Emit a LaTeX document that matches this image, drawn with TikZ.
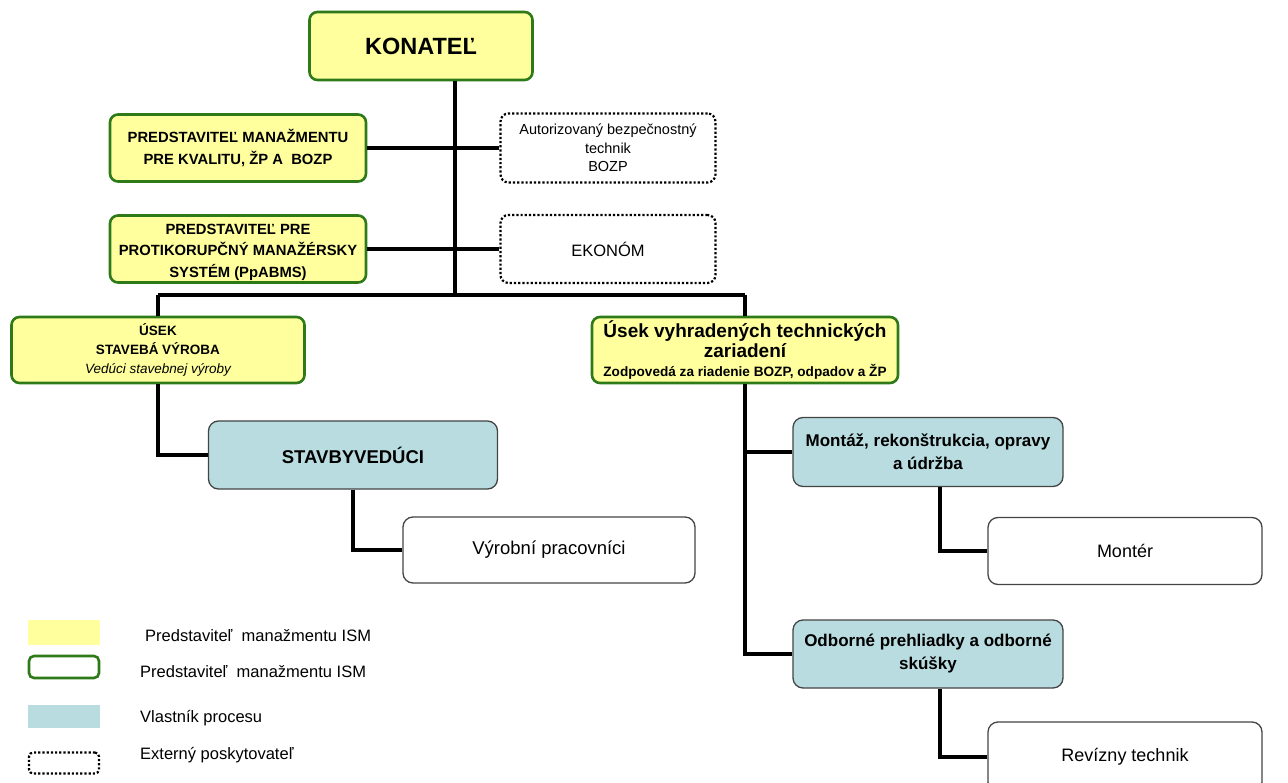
\documentclass[tikz,border=0pt]{standalone}
\usepackage{fontspec}
\setmainfont{Liberation Sans}
\definecolor{ylw}{HTML}{FFFF9E}
\definecolor{grn}{HTML}{2E7A18}
\definecolor{teal2}{HTML}{B8DCE0}
\definecolor{gry}{HTML}{444444}
\tikzset{
  gbox/.style={draw=grn, line width=2.6pt, fill=ylw, rounded corners=8pt, align=center, inner sep=2pt},
  dotbox/.style={draw=black, line width=2.2pt, dotted, rounded corners=8pt, align=center, inner sep=2pt},
  tbox/.style={draw=gry, line width=1.3pt, fill=teal2, rounded corners=10pt, align=center, inner sep=2pt},
  wbox/.style={draw=gry, line width=1.3pt, fill=white, rounded corners=10pt, align=center, inner sep=2pt},
  conn/.style={line width=4.5pt, black},
  lgtext/.style={anchor=west, inner sep=0pt, font=\fontsize{16.5}{18}\selectfont},
}
\newcommand{\fs}[2]{\fontsize{#1}{#2}\selectfont}
\begin{document}
\begin{tikzpicture}[x=1pt,y=-1pt]
\useasboundingbox (0,0) rectangle (1288,783);
% nodes
\node[gbox, minimum width=223pt, minimum height=68pt, font=\fs{23.5}{26}\bfseries] (kon) at (421,46) {KONATEĽ};
\node[gbox, minimum width=256pt, minimum height=67pt, font=\fs{14.8}{22}\bfseries] (pm) at (238,148) {PREDSTAVITEĽ MANAŽMENTU\\PRE KVALITU, ŽP A\ \ BOZP};
\node[dotbox, minimum width=215pt, minimum height=69pt, font=\fs{14.5}{18.5}] (auth) at (608,148) {Autorizovaný bezpečnostný\\technik\\BOZP};
\node[gbox, minimum width=256pt, minimum height=67pt, font=\fs{14.8}{21.5}\bfseries] (pab) at (238,249) {};
\node[font=\fs{14.8}{21.5}\bfseries, align=center, inner sep=0pt] (pabt) at (238,252) {PREDSTAVITEĽ PRE\\PROTIKORUPČNÝ MANAŽÉRSKY\\SYSTÉM (PpABMS)};
\node[dotbox, minimum width=215pt, minimum height=68pt, font=\fs{16.5}{18}] (eko) at (608,249) {EKONÓM};
\coordinate (busL) at (158,295);
\coordinate (busR) at (745,295);
\coordinate (trunk) at (455,295);
\node[gbox, minimum width=293pt, minimum height=66pt, font=\fs{13.5}{19}] (us) at (158,350) {\bfseries ÚSEK\\\bfseries STAVEBÁ VÝROBA\\\itshape Vedúci stavebnej výroby};
\node[gbox, minimum width=306pt, minimum height=66pt, font=\fs{19}{20}\bfseries] (uv) at (745,350) {Úsek vyhradených technických\\zariadení\\[-1pt]{\fs{13.6}{15}\bfseries Zodpovedá za riadenie BOZP, odpadov a ŽP}};
\node[tbox, minimum width=289pt, minimum height=68pt, font=\fs{18.5}{20}\bfseries] (sv) at (353,455) {STAVBYVEDÚCI};
\node[wbox, minimum width=292pt, minimum height=66pt, font=\fs{18.5}{20}] (vp) at (549,550) {Výrobní pracovníci};
\node[tbox, minimum width=270pt, minimum height=69pt, font=\fs{17}{23}\bfseries] (mo) at (928,452) {Montáž, rekonštrukcia, opravy\\a údržba};
\node[wbox, minimum width=274pt, minimum height=67pt, font=\fs{18}{20}] (mt) at (1125,551) {Montér};
\node[tbox, minimum width=270pt, minimum height=68pt, font=\fs{17}{23}\bfseries] (od) at (928,654) {Odborné prehliadky a odborné\\skúšky};
\node[wbox, minimum width=274pt, minimum height=70pt, font=\fs{18}{20}] (rt) at (1125,757) {Revízny technik};
% connectors
\draw[conn] (kon.south -| trunk) -- (trunk);
\draw[conn] (pm.east) -- (auth.west);
\draw[conn] (pab.east) -- (eko.west);
\draw[conn] (busL) -- (busR);
\draw[conn] (busL) -- (us.north);
\draw[conn] (busR) -- (uv.north);
\draw[conn] (us.south) |- (sv.west);
\draw[conn] (sv.south) |- (vp.west);
\draw[conn] (uv.south) |- (od.west);
\draw[conn] (uv.south |- mo.west) -- (mo.west);
\draw[conn] ([xshift=12pt]mo.south) |- (mt.west);
\draw[conn] ([xshift=12pt]od.south) |- (rt.west);
% legend
\node[fill=ylw, minimum width=72pt, minimum height=25pt, inner sep=0pt] (l1) at (64,632) {};
\node[draw=grn, line width=2.6pt, rounded corners=5pt, minimum width=70pt, minimum height=22pt, inner sep=0pt] (l2) at (64,667) {};
\node[fill=teal2, minimum width=72pt, minimum height=23pt, inner sep=0pt] (l3) at (64,716) {};
\node[draw=black, line width=2.2pt, dotted, rounded corners=4pt, minimum width=70pt, minimum height=21pt, inner sep=0pt] (l4) at (64,763) {};
\node[lgtext] (t1) at (145,636) {Predstaviteľ\ \ manažmentu ISM};
\node[lgtext] (t2) at (140,672) {Predstaviteľ\ \ manažmentu ISM};
\node[lgtext] (t3) at (140,718) {Vlastník procesu};
\node[lgtext] (t4) at (140,755) {Externý poskytovateľ};
\end{tikzpicture}
\end{document}
